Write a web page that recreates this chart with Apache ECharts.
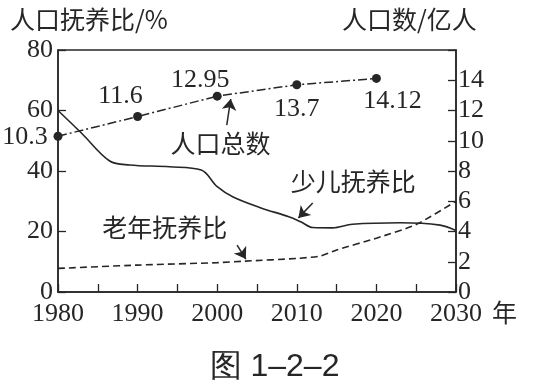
<!DOCTYPE html>
<html><head><meta charset="utf-8">
<script src="https://cdn.jsdelivr.net/npm/echarts@6/dist/echarts.min.js"></script>
<style>html,body{margin:0;padding:0;background:#fff}#c{width:549px;height:391px}</style>
</head><body><div id="c"></div>
<script>
// ---- data ----
const popYears = [1980, 1990, 2000, 2010, 2020];
const popValues = [10.3, 11.6, 12.95, 13.7, 14.12];
const childYears = [1980, 1983, 1986.5, 1989, 1994, 1998, 2000, 2002, 2005.5, 2009, 2010.5, 2012, 2014.5, 2017, 2023, 2028, 2030];
const childValues = [60, 52.4, 43.3, 42, 41.4, 40.3, 34.8, 31.4, 27.8, 24.9, 23.2, 21.3, 21.2, 22.4, 22.9, 22.1, 20.3];
const oldYears = [1980, 1990, 2000, 2003.5, 2010, 2013, 2015, 2020, 2025, 2030];
const oldValues = [7.8, 8.9, 9.7, 10.2, 11.1, 11.9, 13.9, 17.8, 22.3, 30];
const leftTicks = [0, 20, 40, 60, 80];
const rightTicks = [0, 2, 4, 6, 8, 10, 12, 14];
const xTickLabels = [1980, 1990, 2000, 2010, 2020, 2030];

const INK = '#262626';
const SERIF = '"Liberation Serif", "Times New Roman", serif';
const CJK = '"Noto Sans CJK SC", sans-serif';

const labelPos = [[-33, 1], [-17, -20], [-17, -16], [0, 24], [16, 23]];
const popData = popYears.map((y, i) => ({
  value: [y, popValues[i]],
  label: { show: true, position: [4.5 + labelPos[i][0], 4.5 + labelPos[i][1]], align: 'center', verticalAlign: 'middle',
           formatter: String(popValues[i]) }
}));

const chart = echarts.init(document.getElementById('c'), null, { renderer: 'canvas' });
chart.setOption({
  animation: false,
  backgroundColor: '#fff',
  grid: { left: 58, right: 93, top: 50, bottom: 99, show: true, borderColor: INK, borderWidth: 1.5, backgroundColor: 'transparent' },
  graphic: [
    { type: 'text', left: 10, top: 7, style: { text: '人口抚养比/%', fill: INK, font: '25px ' + CJK } },
    { type: 'text', left: 342, top: 7, style: { text: '人口数/亿人', fill: INK, font: '25px ' + CJK } }
  ],
  title: { text: '图 1–2–2', left: 'center', top: 346, textStyle: { fontFamily: '"Liberation Sans", Arial, sans-serif', fontSize: 32, fontWeight: 'normal', color: INK } },
  xAxis: {
    type: 'value', min: 1980, max: 2030, interval: 5,
    name: '年', nameLocation: 'end', nameGap: 36,
    nameTextStyle: { fontFamily: CJK, fontSize: 25, color: INK, verticalAlign: 'top', padding: [8, 0, 0, 0] },
    axisLine: { lineStyle: { color: INK, width: 1.5 } },
    axisTick: { inside: true, length: 8, lineStyle: { color: INK, width: 1.3 } },
    axisLabel: { margin: 9, color: INK, fontFamily: SERIF, fontSize: 26,
      formatter: v => xTickLabels.indexOf(v) >= 0 ? String(v) : '' },
    splitLine: { show: false }
  },
  yAxis: [
    { type: 'value', min: 0, max: 80, interval: 20,
      axisLine: { show: true, lineStyle: { color: INK, width: 1.5 } },
      axisTick: { show: true, inside: true, length: 8, lineStyle: { color: INK, width: 1.3 } },
      axisLabel: { margin: 5, color: INK, fontFamily: SERIF, fontSize: 26,
        formatter: v => leftTicks.indexOf(v) >= 0 ? String(v) : '' },
      splitLine: { show: false } },
    { type: 'value', min: 0, max: 16, interval: 2, position: 'right',
      axisLine: { show: true, lineStyle: { color: INK, width: 1.5 } },
      axisTick: { show: true, inside: true, length: 8, lineStyle: { color: INK, width: 1.3 } },
      axisLabel: { margin: 2, color: INK, fontFamily: SERIF, fontSize: 26,
        formatter: v => rightTicks.indexOf(v) >= 0 ? String(v) : '' },
      splitLine: { show: false } }
  ],
  series: [
    { name: '少儿抚养比', type: 'line', yAxisIndex: 0, smooth: 0.35, symbol: 'none',
      data: childYears.map((y, i) => [y, childValues[i]]),
      lineStyle: { color: INK, width: 1.6 },
      markPoint: {
        silent: true, symbol: 'circle', symbolSize: 1, itemStyle: { color: 'rgba(0,0,0,0)' },
        label: { show: true, position: 'inside', color: INK, fontFamily: CJK, fontSize: 25, formatter: p => p.name },
        data: [
          { name: '人口总数', coord: [2000.4, 49.2] },
          { name: '少儿抚养比', coord: [2017.1, 36.4] },
          { name: '老年抚养比', coord: [1993.4, 21.2] }
        ]
      },
      markLine: {
        silent: true, symbol: ['none', 'arrow'], symbolSize: 11,
        label: { show: false },
        lineStyle: { color: INK, width: 1.5, type: 'solid' },
        data: [
          [{ coord: [2001.2, 55.2] }, { coord: [2001.7, 63.8] }],
          [{ coord: [2012.0, 29.4] }, { coord: [2010.2, 24.5] }],
          [{ coord: [2002.5, 15.5] }, { coord: [2003.6, 10.9] }]
        ]
      }
    },
    { name: '老年抚养比', type: 'line', yAxisIndex: 0, smooth: 0.2, symbol: 'none',
      data: oldYears.map((y, i) => [y, oldValues[i]]),
      lineStyle: { color: INK, width: 1.6, type: [7, 4] } },
    { name: '人口总数', type: 'line', yAxisIndex: 1, symbol: 'circle', symbolSize: 9,
      data: popData,
      itemStyle: { color: INK },
      lineStyle: { color: INK, width: 1.5, type: [9, 3, 2, 3] },
      label: { color: INK, fontFamily: SERIF, fontSize: 26 } }
  ]
});
</script></body></html>
